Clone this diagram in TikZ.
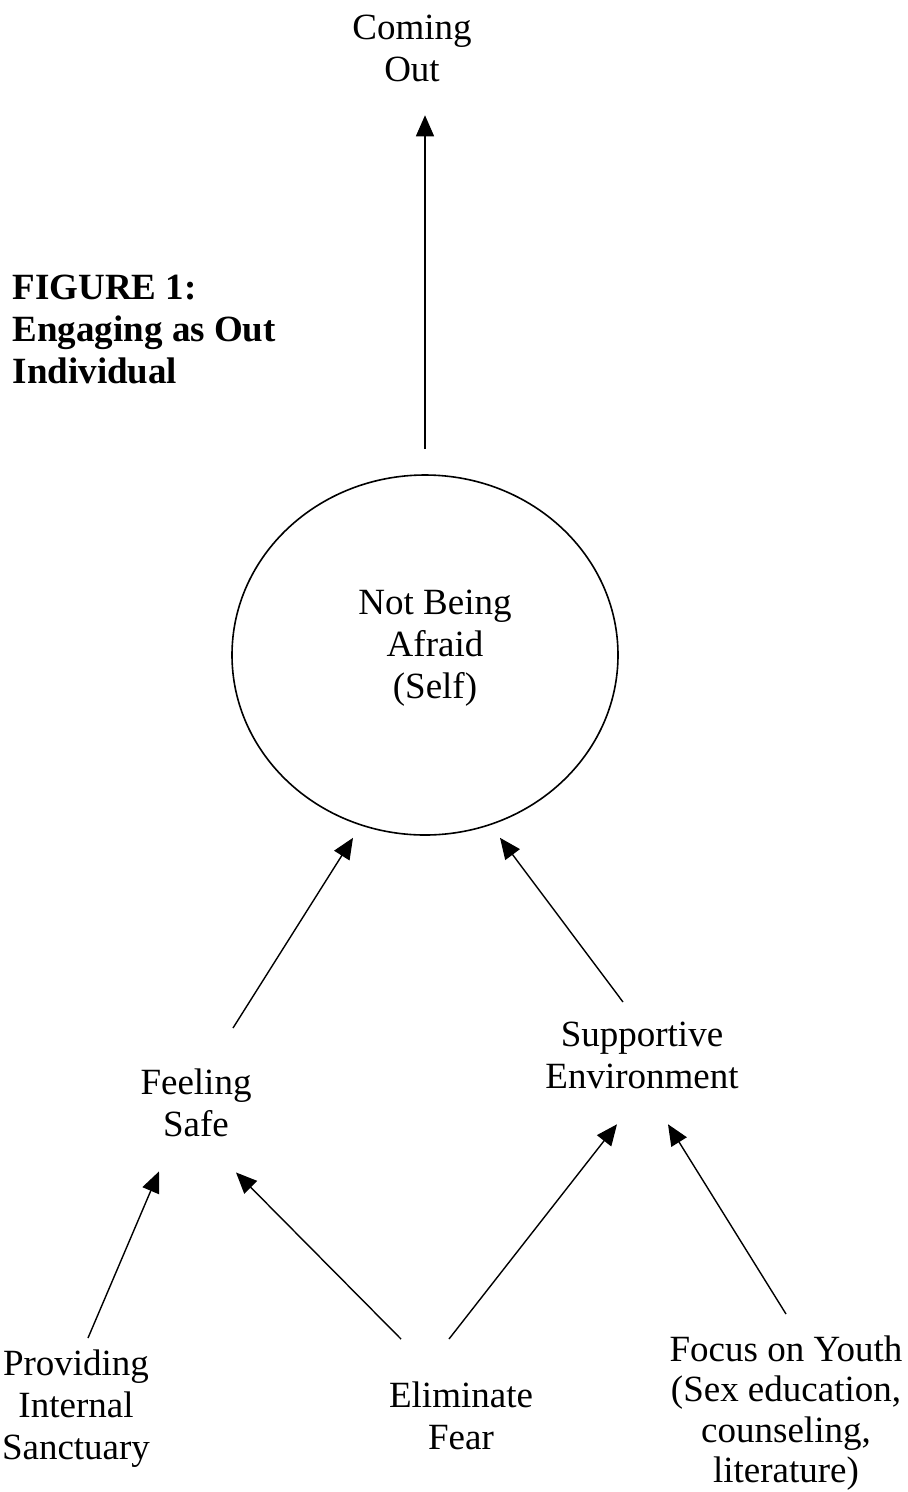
\documentclass[tikz,border=0pt]{standalone}
\usepackage{fontspec}
\setmainfont{Liberation Serif}
\usetikzlibrary{positioning,arrows.meta,shapes.geometric}

\begin{document}
\begin{tikzpicture}[x=1pt,y=-1pt,>={Triangle[length=21pt,width=18pt]},
   line width=1.4pt,
   every node/.style={font=\fontsize{37}{42}\selectfont,align=center,inner sep=0pt}]
  \useasboundingbox (0,0) rectangle (908,1492);
  \node[ellipse,draw,line width=1.6pt,minimum width=386pt,minimum height=360pt] (self) at (425,655) {};
  \node[anchor=north] (afraid) at (435,589) {Not Being\\Afraid\\(Self)};
  \node[anchor=north] (come) at (412,14) {Coming\\Out};
  \node[anchor=north west,align=left,font=\fontsize{37}{42}\selectfont\bfseries] (fig) at (12,274)
     {FIGURE 1:\\Engaging as Out\\Individual};
  \node[anchor=north] (feel) at (196,1068) {Feeling\\Safe};
  \node[anchor=north] (supp) at (642,1021) {Supportive\\Environment};
  \node[anchor=north] (prov) at (76,1349) {Providing\\Internal\\Sanctuary};
  \node[anchor=north] (elim) at (461,1381) {Eliminate\\Fear};
  \node[anchor=north,font=\fontsize{37}{40.5}\selectfont] (youth) at (786,1335)
     {Focus on Youth\\(Sex education,\\counseling,\\literature)};
  \draw[->,shorten <=25pt,shorten >=33pt] (self.north) -- (self.north |- come.south);
  \draw[->] ([shift={(37,-40)}]feel.north) -- ([shift={(-72,2)}]self.south);
  \draw[->] ([shift={(-19,-19)}]supp.north) -- ([shift={(75,2)}]self.south);
  \draw[->] ([shift={(12,-11)}]prov.north) -- ([shift={(-37,34)}]feel.south);
  \draw[->] ([shift={(-60,-42)}]elim.north) -- ([shift={(40,35)}]feel.south);
  \draw[->] ([shift={(-12,-42)}]elim.north) -- ([shift={(-25,35)}]supp.south);
  \draw[->] ([shift={(0,-21)}]youth.north) -- ([shift={(26,35)}]supp.south);
\end{tikzpicture}
\end{document}
